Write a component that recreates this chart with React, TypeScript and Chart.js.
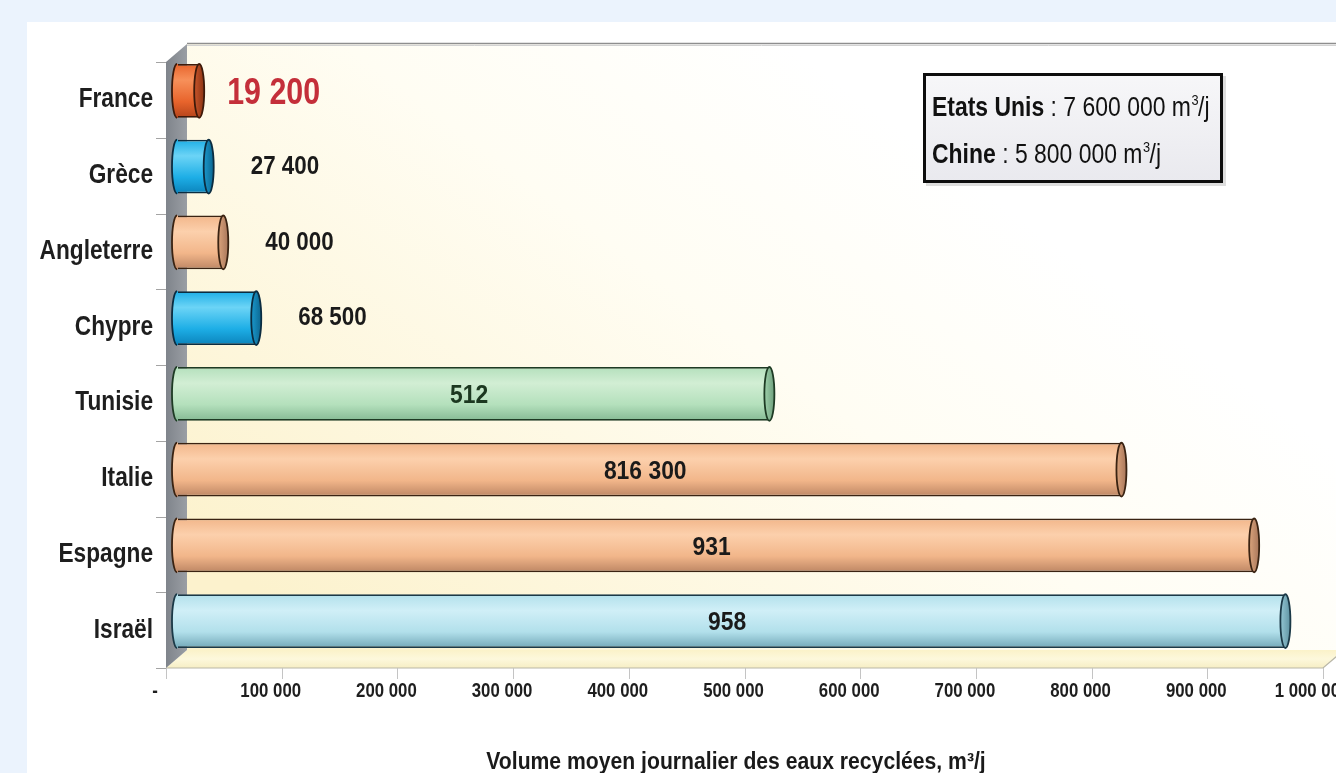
import React, { useEffect, useRef } from "react";
import { Chart, registerables } from "chart.js";

Chart.register(...registerables);

// ---------- data ----------
const categories = ["France", "Grèce", "Angleterre", "Chypre", "Tunisie", "Italie", "Espagne", "Israël"];
const volumes = [19200, 27400, 40000, 68500, 512000, 816300, 931000, 958000];
const valueLabels = ["19 200", "27 400", "40 000", "68 500", "512", "816 300", "931", "958"];
const xTickValues = [0, 100000, 200000, 300000, 400000, 500000, 600000, 700000, 800000, 900000, 1000000];
const legendLine1 = ["Etats Unis", " : 7 600 000 m", "3", "/j"];
const legendLine2 = ["Chine", " : 5 800 000 m", "3", "/j"];
const axisTitle = "Volume moyen journalier des eaux recyclées, m³/j";

// ---------- styles ----------
const FONT = "'Liberation Sans', Arial, Helvetica, sans-serif";

type Tone = { light: string; mid: string; dark: string; cap1: string; cap2: string; line: string; text: string };
const ORANGE: Tone = { light: "#f7905a", mid: "#e8642c", dark: "#b5441a", cap1: "#c9552a", cap2: "#8a3414", line: "#3e1a0a", text: "#c42f3a" };
const BLUE: Tone = { light: "#6cd4f6", mid: "#1daee6", dark: "#0b83bb", cap1: "#1a98cc", cap2: "#0c6690", line: "#0b2c40", text: "#1a1a1a" };
const TAN: Tone = { light: "#fcd0ac", mid: "#f2b68a", dark: "#bd8664", cap1: "#dba47c", cap2: "#a8765a", line: "#3a2312", text: "#1a1a1a" };
const GREEN: Tone = { light: "#d2eed4", mid: "#b4e0bc", dark: "#85ba94", cap1: "#9fd0ab", cap2: "#6e9f7c", line: "#1e3b24", text: "#1c3820" };
const SKY: Tone = { light: "#d0eff7", mid: "#b2e0eb", dark: "#73a8b8", cap1: "#94c6d3", cap2: "#5f93a3", line: "#1b3947", text: "#1a1a1a" };
const barTones = [ORANGE, BLUE, TAN, BLUE, GREEN, TAN, TAN, SKY];

const W = 1336;
const H = 773;
const BAR_PCT = 0.71;
const HALF_DX = 11; // bar plane -> front plane
const HALF_DY = 9;
const CAP_RX = 5;

function fmt(v: number): string {
  if (v === 0) return "-";
  return String(v).replace(/\B(?=(\d{3})+(?!\d))/g, " ");
}

// narrow text: Arial-metric font squeezed horizontally (Arial Narrow look)
function narrowText(
  ctx: CanvasRenderingContext2D,
  text: string,
  x: number,
  y: number,
  size: number,
  bold: boolean,
  sx: number,
  align: CanvasTextAlign,
  color: string,
  baseline: CanvasTextBaseline = "middle"
): number {
  ctx.save();
  ctx.font = `${bold ? "bold " : ""}${size}px ${FONT}`;
  ctx.fillStyle = color;
  ctx.textAlign = align;
  ctx.textBaseline = baseline;
  ctx.translate(x, y);
  ctx.scale(sx, 1);
  ctx.fillText(text, 0, 0);
  const w = ctx.measureText(text).width * sx;
  ctx.restore();
  return w;
}

const decorPlugin = {
  id: "decor",
  beforeDraw(chart: any) {
    const { ctx, chartArea: ca } = chart;
    const xs = chart.scales.x;
    const ys = chart.scales.y;
    ctx.save();
    ctx.fillStyle = "#ebf3fd";
    ctx.fillRect(0, 0, W, H);
    ctx.fillStyle = "#ffffff";
    ctx.fillRect(27, 22, W - 27, H - 22);

    const fx = ca.left - HALF_DX;
    const fb = ca.bottom + HALF_DY;
    const ft = ca.top + HALF_DY;
    const bx = ca.left + (HALF_DX - 1);
    const bt = ca.top - HALF_DY;
    const bb = ca.bottom - HALF_DY;

    // back wall
    const g = ctx.createLinearGradient(bx + 600, bt, bx + 150, bb);
    g.addColorStop(0, "#ffffff");
    g.addColorStop(0.35, "#fffdf3");
    g.addColorStop(1, "#fcf2cd");
    ctx.fillStyle = g;
    ctx.fillRect(bx, bt, W - bx, bb - bt);
    // top frame line
    ctx.strokeStyle = "#8e8e8e";
    ctx.lineWidth = 1.5;
    ctx.beginPath();
    ctx.moveTo(bx, bt - 0.5);
    ctx.lineTo(W, bt - 0.5);
    ctx.stroke();
    ctx.strokeStyle = "#d2d2d2";
    ctx.lineWidth = 1;
    ctx.beginPath();
    ctx.moveTo(bx, bt + 1.5);
    ctx.lineTo(W, bt + 1.5);
    ctx.stroke();

    // floor
    const fRight = xs.getPixelForValue(1000000) - HALF_DX;
    const bRight = fRight + 2 * HALF_DX - 1;
    const fg = ctx.createLinearGradient(0, bb, 0, fb);
    fg.addColorStop(0, "#fbf2c9");
    fg.addColorStop(0.5, "#fdf8dc");
    fg.addColorStop(1, "#f6eec4");
    ctx.fillStyle = fg;
    ctx.beginPath();
    ctx.moveTo(fx, fb);
    ctx.lineTo(fRight, fb);
    ctx.lineTo(bRight, bb);
    ctx.lineTo(bx, bb);
    ctx.closePath();
    ctx.fill();
    ctx.strokeStyle = "#b9b7a8";
    ctx.lineWidth = 1.2;
    ctx.beginPath();
    ctx.moveTo(fx, fb);
    ctx.lineTo(fRight, fb);
    ctx.lineTo(bRight, bb);
    ctx.stroke();

    // left wall
    const wg = ctx.createLinearGradient(fx, 0, bx, 0);
    wg.addColorStop(0, "#7f848b");
    wg.addColorStop(1, "#9a9ea4");
    ctx.fillStyle = wg;
    ctx.beginPath();
    ctx.moveTo(fx, ft);
    ctx.lineTo(bx, bt);
    ctx.lineTo(bx, bb);
    ctx.lineTo(fx, fb);
    ctx.closePath();
    ctx.fill();

    // category tick marks (front plane)
    ctx.strokeStyle = "#a4a4a4";
    ctx.lineWidth = 1;
    for (let k = 0; k <= categories.length; k++) {
      const y = Math.round(ys.getPixelForValue(k - 0.5) + HALF_DY) + 0.5;
      ctx.beginPath();
      ctx.moveTo(fx - 10, y);
      ctx.lineTo(fx, y);
      ctx.stroke();
    }
    // value tick marks (front floor edge)
    ctx.strokeStyle = "#c4c4c4";
    for (const v of xTickValues) {
      const x = Math.round(xs.getPixelForValue(v) - HALF_DX) + 0.5;
      ctx.beginPath();
      ctx.moveTo(x, fb);
      ctx.lineTo(x, fb + 11);
      ctx.stroke();
    }
    ctx.restore();
  },
  afterDatasetsDraw(chart: any) {
    const { ctx } = chart;
    const meta = chart.getDatasetMeta(0);
    ctx.save();
    meta.data.forEach((el: any, i: number) => {
      const { x, y, base, height } = el.getProps(["x", "y", "base", "height"], true);
      const tone = barTones[i];
      const ry = height / 2;
      // left rounded end
      const lg = ctx.createLinearGradient(0, y - ry, 0, y + ry);
      lg.addColorStop(0, tone.mid);
      lg.addColorStop(0.3, tone.light);
      lg.addColorStop(0.7, tone.mid);
      lg.addColorStop(1, tone.dark);
      ctx.fillStyle = lg;
      ctx.beginPath();
      ctx.ellipse(base, y, CAP_RX, ry, 0, Math.PI / 2, (Math.PI * 3) / 2);
      ctx.lineTo(base + 1, y - ry);
      ctx.lineTo(base + 1, y + ry);
      ctx.closePath();
      ctx.fill();
      ctx.strokeStyle = tone.line;
      ctx.lineWidth = 1.8;
      ctx.beginPath();
      ctx.ellipse(base, y, CAP_RX, ry, 0, Math.PI / 2, (Math.PI * 3) / 2);
      ctx.stroke();
      // right end cap
      const cg = ctx.createLinearGradient(x - CAP_RX, 0, x + CAP_RX, 0);
      cg.addColorStop(0, tone.cap1);
      cg.addColorStop(1, tone.cap2);
      ctx.fillStyle = cg;
      ctx.beginPath();
      ctx.ellipse(x, y, CAP_RX, ry, 0, 0, Math.PI * 2);
      ctx.fill();
      ctx.stroke();

      // value label
      const big = i === 0;
      if (volumes[i] > 200000) {
        narrowText(ctx, valueLabels[i], (base + x) / 2 - 4, y + 2, 26, true, 0.88, "center", tone.text);
      } else if (big) {
        narrowText(ctx, valueLabels[i], x + 28, y + 3, 37, true, 0.82, "left", tone.text);
      } else {
        narrowText(ctx, valueLabels[i], x + 42, y, 26, true, 0.86, "left", tone.text);
      }
    });
    ctx.restore();
  },
  afterDraw(chart: any) {
    const { ctx } = chart;
    const xs = chart.scales.x;
    const ys = chart.scales.y;

    // category labels (y axis, front plane)
    categories.forEach((c, i) => {
      narrowText(ctx, c, ys.right - 24, ys.getPixelForValue(i) + HALF_DY, 27, true, 0.84, "right", "#1e1e1e");
    });
    // value tick labels (x axis, front plane)
    xTickValues.forEach((v) => {
      narrowText(ctx, fmt(v), xs.getPixelForValue(v) - 22, 691, 21, true, 0.8, "center", "#1e1e1e");
    });
    // axis title
    narrowText(ctx, axisTitle, 736, 763, 23, true, 0.92, "center", "#1a1a1a");

    // info box
    ctx.save();
    const bx0 = 923, by0 = 73, bw = 300, bh = 110;
    ctx.fillStyle = "rgba(120,120,120,0.25)";
    ctx.fillRect(bx0 + 3, by0 + 3, bw, bh);
    const ig = ctx.createLinearGradient(0, by0, 0, by0 + bh);
    ig.addColorStop(0, "#f7f7f9");
    ig.addColorStop(1, "#e9e9ee");
    ctx.fillStyle = ig;
    ctx.fillRect(bx0, by0, bw, bh);
    ctx.strokeStyle = "#0d0d0d";
    ctx.lineWidth = 3;
    ctx.strokeRect(bx0 + 1.5, by0 + 1.5, bw - 3, bh - 3);
    ctx.restore();

    const drawLine = (parts: string[], yy: number) => {
      let cx = bx0 + 9;
      cx += narrowText(ctx, parts[0], cx, yy, 27, true, 0.85, "left", "#111111", "alphabetic");
      cx += narrowText(ctx, parts[1], cx, yy, 27, false, 0.85, "left", "#111111", "alphabetic");
      cx += narrowText(ctx, parts[2], cx + 0.5, yy - 11, 15, false, 0.85, "left", "#111111", "alphabetic");
      narrowText(ctx, parts[3], cx, yy, 27, false, 0.85, "left", "#111111", "alphabetic");
    };
    drawLine(legendLine1, 116);
    drawLine(legendLine2, 163);
  },
};

export default function App() {
  const ref = useRef<HTMLCanvasElement | null>(null);

  useEffect(() => {
    if (!ref.current) return;
    const chart = new Chart(ref.current, {
      type: "bar",
      data: {
        labels: categories,
        datasets: [
          {
            data: volumes,
            backgroundColor: (c: any) => {
              const tone = barTones[c.dataIndex] || TAN;
              const ch = c.chart;
              const ca = ch.chartArea;
              if (!ca || c.type !== "data") return tone.mid;
              const y = ch.scales.y.getPixelForValue(c.dataIndex);
              const h = ((ca.bottom - ca.top) / categories.length) * BAR_PCT;
              const g = ch.ctx.createLinearGradient(0, y - h / 2, 0, y + h / 2);
              g.addColorStop(0, tone.mid);
              g.addColorStop(0.3, tone.light);
              g.addColorStop(0.7, tone.mid);
              g.addColorStop(1, tone.dark);
              return g;
            },
            borderColor: barTones.map((t) => t.line),
            borderWidth: 1.8,
            borderSkipped: "start",
            barPercentage: BAR_PCT,
            categoryPercentage: 1,
          },
        ],
      },
      options: {
        indexAxis: "y",
        animation: false,
        responsive: false,
        events: [],
        layout: { padding: { top: 53, right: 2, left: 0, bottom: 0 }, autoPadding: false },
        plugins: { legend: { display: false }, tooltip: { enabled: false }, title: { display: false } },
        scales: {
          x: {
            type: "linear",
            min: 0,
            max: 1000000,
            grid: { display: false, drawTicks: false },
            border: { display: false },
            afterFit: (s: any) => {
              s.height = 114;
              s.paddingLeft = 0;
              s.paddingRight = 0;
            },
            afterBuildTicks: (s: any) => {
              s.ticks = xTickValues.map((v) => ({ value: v }));
            },
            ticks: { display: false, autoSkip: false, maxRotation: 0, callback: (v: any) => fmt(Number(v)) },
          },
          y: {
            grid: { display: false, drawTicks: false },
            border: { display: false },
            afterFit: (s: any) => {
              s.width = 177;
              s.paddingTop = 0;
              s.paddingBottom = 0;
            },
            ticks: { display: false },
          },
        },
      },
      plugins: [decorPlugin],
    } as any);
    return () => chart.destroy();
  }, []);

  return (
    <div style={{ position: "fixed", left: 0, top: 0, width: W, height: H, background: "#ebf3fd" }}>
      <canvas ref={ref} width={W} height={H} style={{ display: "block", width: W, height: H }} />
    </div>
  );
}
